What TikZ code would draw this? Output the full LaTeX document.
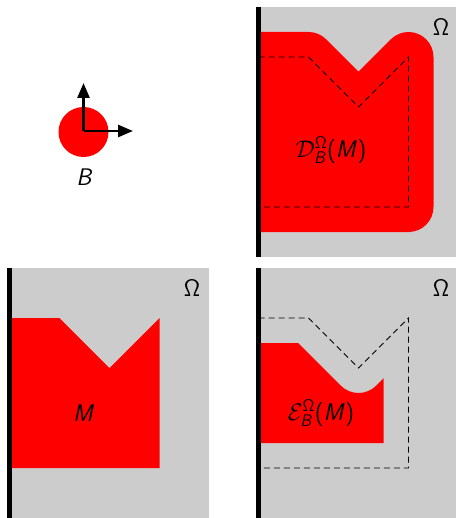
\documentclass[tikz,border=0pt]{standalone}
\usepackage{fix-cm}
\usetikzlibrary{arrows.meta}
\definecolor{panelgray}{HTML}{CCCCCC}
\definecolor{setred}{HTML}{FF0000}
\DeclareMathAlphabet{\mathsfup}{OT1}{cmss}{m}{n}
\DeclareMathAlphabet{\mathsfit}{OT1}{cmss}{m}{sl}
\begin{document}
\begin{tikzpicture}[x=1pt,y=-1pt,
  panel/.style={fill=panelgray},
  wall/.style={line width=5pt},
  setfill/.style={fill=setred},
  outline/.style={dash pattern=on 6pt off 4pt, line width=0.9pt},
  lbl/.style={font=\fontsize{24}{28}\selectfont, inner sep=0pt},
  axis/.style={line width=2.5pt, -{Triangle[length=15pt,width=12pt]}}
]
\useasboundingbox (0,0) rectangle (456,518);

% ---------- operator B ----------
\fill[setfill] (83.5,132) circle[radius=25];
\coordinate (o) at (83.5,131);
\coordinate (ex) at (133,131);
\coordinate (ey) at (83.5,83);
\draw[axis] (o) -- (ex);
\draw[axis] (o) -- (ey);
\node[lbl] (lblB) at (85,177) {$\mathsfit{B}$};

% ---------- top right: dilation ----------
\fill[panel] (256,7) rectangle (456,257);
\fill[setfill] (258.5,32) -- (308.5,32) arc[start angle=-90,end angle=-45,radius=25]
  -- (358.5,71.64) -- (390.82,39.32) arc[start angle=-135,end angle=0,radius=25]
  -- (433.5,207) arc[start angle=0,end angle=90,radius=25]
  -- (258.5,232) -- cycle;
\draw[outline] (258.5,57) -- (308.5,57) -- (358.5,107) -- (408.5,57) -- (408.5,207) -- (258.5,207);
\draw[wall] (258.5,7) -- (258.5,257);
\node[lbl] (omA) at (441,27) {$\mathsfup{\Omega}$};
\node[lbl] (lblD) at (331,150) {$\mathcal{D}^{\mathsfup{\Omega}}_{\mathsfit{B}}\textsf{(}\mathsfit{M}\textsf{)}$};

% ---------- bottom left: M ----------
\fill[panel] (7,268) rectangle (209,518);
\fill[setfill] (9.5,318) -- (59.5,318) -- (109.5,368) -- (159.5,318) -- (159.5,468) -- (9.5,468) -- cycle;
\draw[wall] (9.5,268) -- (9.5,518);
\node[lbl] (omB) at (192,288) {$\mathsfup{\Omega}$};
\node[lbl] (lblM) at (84,413) {$\mathsfit{M}$};

% ---------- bottom right: erosion ----------
\fill[panel] (256,268) rectangle (456,518);
\fill[setfill] (258.5,343) -- (298.15,343) -- (340.82,385.68)
  arc[start angle=135,end angle=45,radius=25]
  -- (383.5,378.36) -- (383.5,443) -- (258.5,443) -- cycle;
\draw[outline] (258.5,318) -- (308.5,318) -- (358.5,368) -- (408.5,318) -- (408.5,468) -- (258.5,468);
\draw[wall] (258.5,268) -- (258.5,518);
\node[lbl] (omC) at (441,288) {$\mathsfup{\Omega}$};
\node[lbl] (lblE) at (321,413) {$\mathcal{E}^{\mathsfup{\Omega}}_{\mathsfit{B}}\textsf{(}\mathsfit{M}\textsf{)}$};
\end{tikzpicture}
\end{document}
